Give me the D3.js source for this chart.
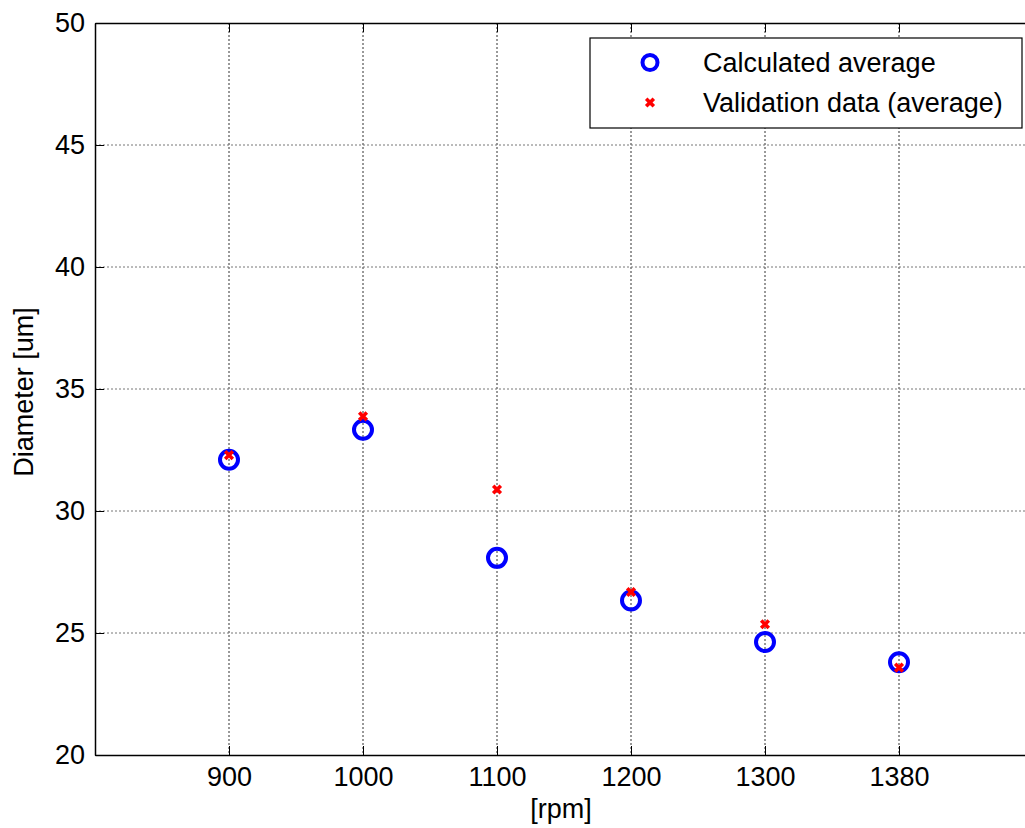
<!DOCTYPE html>
<html>
<head>
<meta charset="utf-8">
<script src="https://cdn.jsdelivr.net/npm/d3@7"></script>
<style>
  html, body { margin: 0; padding: 0; background: #fff; }
  svg { display: block; font-family: "Liberation Sans", Arial, sans-serif; }
</style>
</head>
<body>
<svg id="chart" width="1025" height="828"></svg>
<script>
// ─── Data ─────────────────────────────────────────────
const rpmLabels = ["900", "1000", "1100", "1200", "1300", "1380"];
const calculated = [32.1, 33.33, 28.08, 26.33, 24.63, 23.8];
const validation = [32.29, 33.88, 30.88, 26.68, 25.36, 23.58];
const yTicks = [20, 25, 30, 35, 40, 45, 50];
const seriesNames = ["Calculated average", "Validation data (average)"];

const FONT = "'Liberation Sans', Arial, sans-serif";
const FS = 27;

const width = 1025, height = 828;
const margin = { left: 95, top: 23, right: -8, bottom: 73 };
const plotW = width - margin.left - margin.right;
const plotH = height - margin.top - margin.bottom;

const svg = d3.select("#chart");

// x is positional: each rpm sits at its index 1..6
const x = d3.scaleLinear().domain([0, 7]).range([0, plotW]);
const y = d3.scaleLinear().domain([20, 50]).range([plotH, 0]);

const g = svg.append("g").attr("transform", `translate(${margin.left},${margin.top})`);

// Grid
g.append("g").selectAll("line")
  .data(rpmLabels)
  .join("line")
  .attr("x1", (d, i) => x(i + 1)).attr("x2", (d, i) => x(i + 1))
  .attr("y1", 0).attr("y2", plotH)
  .attr("stroke", "#333").attr("stroke-width", 1)
  .attr("stroke-dasharray", "2,2");

g.append("g").selectAll("line")
  .data(yTicks.slice(1, -1))
  .join("line")
  .attr("x1", 0).attr("x2", plotW)
  .attr("y1", d => y(d)).attr("y2", d => y(d))
  .attr("stroke", "#777").attr("stroke-width", 1)
  .attr("stroke-dasharray", "2,2");

// Axes (MATLAB style: inward ticks)
const xAxis = d3.axisBottom(x)
  .tickValues(rpmLabels.map((d, i) => i + 1))
  .tickFormat((d) => rpmLabels[d - 1])
  .tickSizeInner(-9).tickSizeOuter(0).tickPadding(12);

const xg = g.append("g").attr("transform", `translate(0,${plotH})`).call(xAxis);
xg.attr("font-size", FS).attr("font-family", FONT);
xg.select(".domain").attr("stroke", "#000").attr("stroke-width", 1.5);
xg.selectAll(".tick line").attr("stroke", "#000");
xg.selectAll("text").attr("fill", "#000");

const xTop = d3.axisTop(x)
  .tickValues(rpmLabels.map((d, i) => i + 1))
  .tickFormat("").tickSizeInner(-9).tickSizeOuter(0);
const xtg = g.append("g").call(xTop);
xtg.select(".domain").attr("stroke", "#000").attr("stroke-width", 1.5);

const yAxis = d3.axisLeft(y).tickValues(yTicks)
  .tickSizeInner(-9).tickSizeOuter(0).tickPadding(10);
const yg = g.append("g").call(yAxis);
yg.attr("font-size", FS).attr("font-family", FONT);
yg.select(".domain").attr("stroke", "#000").attr("stroke-width", 1.5);
yg.selectAll(".tick line").attr("stroke", "#000");
yg.selectAll("text").attr("fill", "#000");

// Axis labels
svg.append("text")
  .attr("x", 561).attr("y", 818)
  .attr("text-anchor", "middle").attr("font-size", FS).attr("fill", "#000")
  .text("[rpm]");

svg.append("text")
  .attr("transform", "translate(33,392) rotate(-90)")
  .attr("text-anchor", "middle").attr("font-size", FS).attr("fill", "#000")
  .text("Diameter [um]");

// Markers
const xMark = (s) => `M${-s},${-s}L${s},${s}M${-s},${s}L${s},${-s}`;

g.append("g").selectAll("circle")
  .data(calculated)
  .join("circle")
  .attr("cx", (d, i) => x(i + 1))
  .attr("cy", d => y(d))
  .attr("r", 9)
  .attr("fill", "none")
  .attr("stroke", "#0000ff")
  .attr("stroke-width", 4);

g.append("g").selectAll("path")
  .data(validation)
  .join("path")
  .attr("transform", (d, i) => `translate(${x(i + 1)},${y(d)})`)
  .attr("d", xMark(3.8))
  .attr("stroke", "#ff0000")
  .attr("stroke-width", 3.6)
  .attr("fill", "none");

// Legend
const legend = svg.append("g");
legend.append("rect")
  .attr("x", 590).attr("y", 38).attr("width", 432).attr("height", 90)
  .attr("fill", "#fff").attr("stroke", "#000").attr("stroke-width", 1.2);

legend.append("circle")
  .attr("cx", 650).attr("cy", 62.5).attr("r", 7.5)
  .attr("fill", "none").attr("stroke", "#0000ff").attr("stroke-width", 4);
legend.append("path")
  .attr("transform", "translate(650,102.5)")
  .attr("d", xMark(3.8))
  .attr("stroke", "#ff0000").attr("stroke-width", 3.6);

legend.selectAll("text")
  .data(seriesNames)
  .join("text")
  .attr("x", 703)
  .attr("y", (d, i) => 72 + i * 40)
  .attr("font-size", FS).attr("fill", "#000")
  .text(d => d);
</script>
</body>
</html>
